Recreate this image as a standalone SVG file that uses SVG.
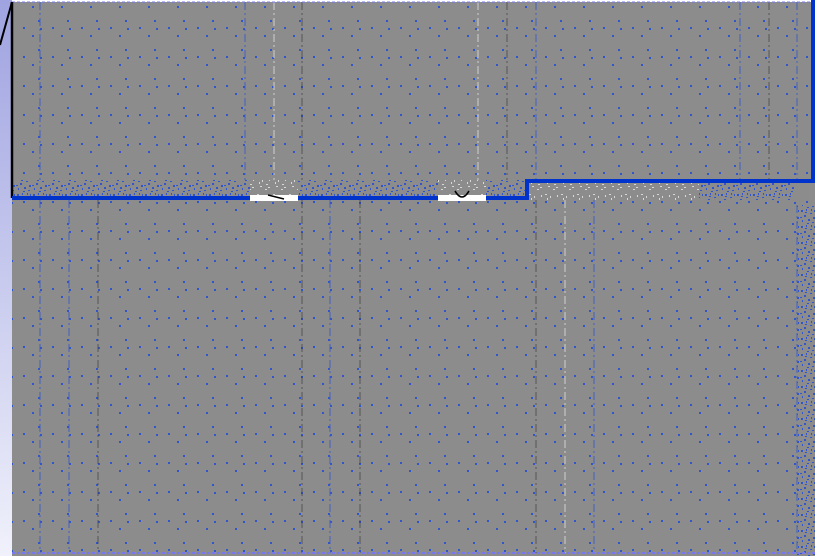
<svg xmlns="http://www.w3.org/2000/svg" width="815" height="556" viewBox="0 0 815 556">
<defs>
<linearGradient id="side" x1="0" y1="0" x2="0" y2="1">
<stop offset="0" stop-color="#9fa3e0"/>
<stop offset="1" stop-color="#f0f1fb"/>
</linearGradient>
<pattern id="dots" width="29" height="29" patternUnits="userSpaceOnUse" x="3" y="6">
<rect x="0" y="0" width="2" height="2" fill="#3355cc"/>
<rect x="6" y="14" width="2" height="2" fill="#3355cc"/>
<rect x="8" y="22" width="2" height="2" fill="#3355cc"/>
<rect x="20" y="21" width="2" height="2" fill="#3355cc"/>
</pattern>
<pattern id="noise" width="16" height="16" patternUnits="userSpaceOnUse">
<rect x="1" y="2" width="2" height="2" fill="#3355cc"/>
<rect x="6" y="1" width="1" height="2" fill="#3355cc"/>
<rect x="10" y="5" width="2" height="1" fill="#3355cc"/>
<rect x="4" y="7" width="2" height="2" fill="#3355cc"/>
<rect x="13" y="9" width="2" height="2" fill="#3355cc"/>
<rect x="2" y="12" width="1" height="2" fill="#3355cc"/>
<rect x="8" y="11" width="2" height="2" fill="#3355cc"/>
<rect x="12" y="14" width="2" height="1" fill="#3355cc"/>
<rect x="14" y="2" width="1" height="2" fill="#3355cc"/>
<rect x="5" y="4" width="2" height="1" fill="#3355cc"/>
<rect x="11" y="1" width="1" height="2" fill="#3355cc"/>
<rect x="0" y="9" width="2" height="1" fill="#3355cc"/>
<rect x="7" y="15" width="2" height="1" fill="#3355cc"/>
</pattern>
<pattern id="noiseW" width="16" height="16" patternUnits="userSpaceOnUse">
<rect x="1" y="2" width="2" height="1" fill="#d8d8d8"/>
<rect x="6" y="4" width="1" height="2" fill="#d8d8d8"/>
<rect x="10" y="8" width="2" height="1" fill="#d8d8d8"/>
<rect x="4" y="10" width="2" height="1" fill="#d8d8d8"/>
<rect x="13" y="3" width="1" height="2" fill="#d8d8d8"/>
<rect x="9" y="13" width="2" height="1" fill="#d8d8d8"/>
<rect x="3" y="6" width="1" height="2" fill="#d8d8d8"/>
<rect x="12" y="11" width="2" height="1" fill="#d8d8d8"/>
</pattern>
<style>
.vb{stroke:#3355cc;stroke-width:1;stroke-dasharray:8 3 2 3;fill:none;opacity:.8}
.vw{stroke:#e0e0e0;stroke-width:1;stroke-dasharray:8 3 2 3;fill:none;opacity:.8}
.vk{stroke:#333;stroke-width:1;stroke-dasharray:8 3 2 3;fill:none;opacity:.6}
.wall{stroke:#0033cc;stroke-width:4;fill:none}
</style>
</defs>
<rect x="0" y="0" width="815" height="556" fill="#ffffff"/>
<rect x="0" y="0" width="12" height="556" fill="url(#side)"/>
<rect x="12" y="2" width="803" height="554" fill="#8c8c8c"/>
<rect x="12" y="2" width="803" height="554" fill="url(#dots)"/>
<rect x="12" y="180" width="515" height="17" fill="#8c8c8c"/>
<rect x="12" y="180" width="515" height="17" fill="url(#noise)"/>
<rect x="250" y="180" width="48" height="16" fill="#8c8c8c"/>
<rect x="250" y="180" width="48" height="16" fill="url(#noiseW)"/>
<rect x="438" y="180" width="48" height="16" fill="#8c8c8c"/>
<rect x="438" y="180" width="48" height="16" fill="url(#noiseW)"/>
<rect x="529" y="183" width="170" height="17" fill="#8c8c8c"/>
<rect x="529" y="183" width="170" height="17" fill="url(#noiseW)"/>
<rect x="699" y="183" width="95" height="17" fill="#8c8c8c"/>
<rect x="699" y="183" width="95" height="17" fill="url(#noise)"/>
<rect x="797" y="205" width="18" height="351" fill="#8c8c8c"/>
<rect x="797" y="205" width="18" height="351" fill="url(#noise)"/>
<g id="grid">
<path class="vb" d="M40 2V180M40 200V553"/>
<path class="vb" d="M69 200V553"/>
<path class="vk" d="M98 200V553"/>
<path class="vb" d="M245 2V180"/>
<path class="vw" d="M274 2V180"/>
<path class="vk" d="M302 2V180M302 200V553"/>
<path class="vb" d="M330 200V553"/>
<path class="vk" d="M360 200V553"/>
<path class="vw" d="M478 2V180"/>
<path class="vk" d="M507 2V180"/>
<path class="vb" d="M536 2V180"/>
<path class="vk" d="M536 200V553"/>
<path class="vw" d="M565 200V553"/>
<path class="vb" d="M594 200V553"/>
<path class="vb" d="M740 2V180"/>
<path class="vk" d="M769 2V180"/>
<path class="vb" d="M797 2V180M797 205V553"/>
</g>
<line x1="12" y1="553" x2="815" y2="553" stroke="#7777ee" stroke-width="2" stroke-dasharray="3 2"/>
<line x1="12" y1="2" x2="815" y2="2" stroke="#7777ee" stroke-width="1" stroke-dasharray="3 2"/>
<g id="walls">
<line x1="0" y1="45" x2="12" y2="2" stroke="#000" stroke-width="2"/>
<line x1="12" y1="2" x2="12" y2="198" stroke="#000" stroke-width="2.5"/>
<path class="wall" d="M12 198H250M298 198H438M486 198H527V181H815M813 181V0"/>
<rect x="250" y="195" width="48" height="6" fill="#fff"/>
<rect x="438" y="195" width="48" height="6" fill="#fff"/>
<path d="M268 195L284 199" stroke="#000" stroke-width="1.5" fill="none"/>
<path d="M455 191Q462 203 469 191" stroke="#000" stroke-width="1.5" fill="none"/>
</g>
</svg>
